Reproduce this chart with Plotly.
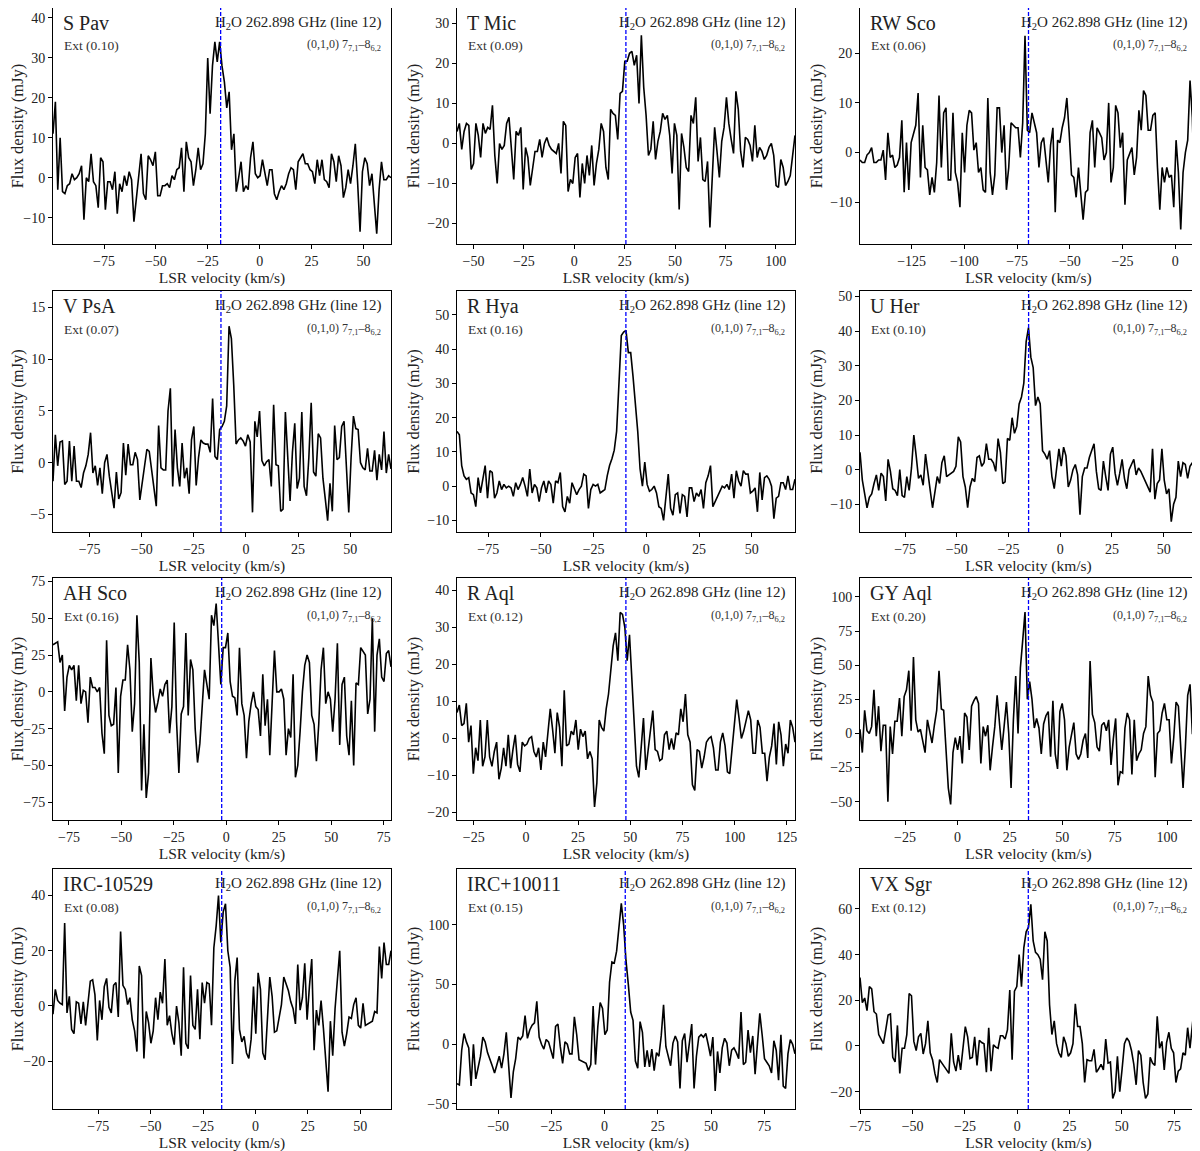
import numpy as np
import plotly.graph_objects as go

# ---------------- data ----------------
stars = ["S Pav", "T Mic", "RW Sco", "V PsA", "R Hya", "U Her",
         "AH Sco", "R Aql", "GY Aql", "IRC-10529", "IRC+10011", "VX Sgr"]
ext = ["0.10", "0.09", "0.06", "0.07", "0.16", "0.10",
       "0.16", "0.12", "0.20", "0.08", "0.15", "0.12"]
vsys = [-18.8, 25.6, -69.6, -12.0, -9.7, -15.3, -2.2, 47.9, 33.9, -16.1, 9.7, 5.3]
vel_lo = [-99.6, -58.2, -149.5, -92.6, -89.8, -96.8, -82.6, -33.0, -46.5, -96.6, -69.3, -75.2]
vel_hi = [63.3, 109.5, 10.3, 69.6, 70.5, 66.1, 78.5, 128.9, 114.3, 64.7, 89.4, 86.0]
y_lo = [-16.6, -25.1, -18.4, -6.7, -13.4, -18.0, -87.0, -22.0, -63.4, -37.3, -54.2, -27.6]
y_hi = [42.5, 33.8, 29.1, 16.6, 57.0, 51.6, 77.3, 43.3, 113.9, 49.6, 146.8, 77.5]
y_dtick = [10, 10, 10, 5, 10, 10, 25, 10, 25, 20, 50, 20]

flux_s_pav = [11, 19, -3, 10, -3.5, -4, -2, -1.5, 1, -0.5, 0, 1, 3, -10.5, 0, -1, 6, -1, -2, -7.5, 5, 4, -8, -1, -1,
              -3, 1.5, -9, -1.5, -3.5, 0.5, -2, 1.5, -0.5, -11, -5, 0, 6, -4, -5.5, 5.5, 4.5, 3, 6.5, -4.5, -4.5, -2,
              -2, -1.5, -2.5, 0.5, -0.5, 2, 2.5, 7.5, -3.5, 9, 5, 4, -2, 2, 7.5, 2, 3.5, 11, 30, 16, 28, 34, 29, 34,
              28, 24, 17.5, 21.5, 7, 11, -3.5, 0, 4, -3.5, -2, -3, 5, 9, 1, 0, 0.5, 4.5, 1, -2, 2, 2, -4, -5.5, -3.5,
              -2, -3, -1.5, 1, 2.5, 2, -3, 4, 5, 6, 3.5, 3.5, 2, 1.5, -1.5, 4.5, 0.5, 4.5, -0.5, -1, -2.5, 6, 4, -1,
              5.5, 3, -5, -2.5, 2, -1.5, 3, 8.5, -1.5, -13.5, 1.5, 5, 3.5, -2, 1, -6, -14, -3, 4, -0.5, -0.5, 0.5, 0]
flux_t_mic = [3, 5, -1.5, 3, 5, 4.5, -6.5, -5, 5, 2, -3.5, 5, 2.5, 4, 3.5, 9.5, -3, -10, 0, -1.5, -0.5, 5, 6.5, -1,
              -9, 3, 2, 4, -11.5, -1, -3.5, -10.5, -6, -2, -2, 1, -3.5, 0, 1.5, -0.5, -1.5, -2, -2.5, 0, -7.5, 5.5,
              4.5, -12, -9, -10, -3.5, -2.5, -13.5, -5, -10, -3, -8, -0.5, -10.5, -5, -1.5, 5, 3, -6, -9, 8.5, 7.5,
              7, 1, 12.5, 13, 20.5, 20.5, 22.5, 23, 19.5, 22, 10, 27, 14, 7, -3, -1.5, 5.5, -4, 0.5, 3, 7.5, 6, 7, 2,
              -7.5, 5, 2, -16.5, 2.5, -1, -6, -7, 7, 5, 11.5, -4.5, 1.5, -9, -9.5, -4.5, -21, -10, 4, -2, -8.5, 0.5,
              4, 11.5, 5, 1, -2.5, 13, 8.5, -2, -6, 1.5, 1, -0.5, -4.5, 4.5, -3.5, -1, -2, -4, -3, -1, 0, -3, -10.5,
              -11, -4, -6, -10.5, -9.5, -8, -3, 2]
flux_rw_sco = [-1.5, -2, -2, -0.5, 0, 1, -2, -2, -1.5, -1.5, 0.5, -5.5, 4, -1, -0.5, -3, -2.5, -1, 6.5, -8, 2, -7.5,
               2, 4, 5.5, 12, -5, 5.5, -3, -3.5, -8.5, -5, -8, -2, 11.5, -3, 8, 9, -5.5, -5.5, 8, -4, -6, -11, 4, -4,
               5.5, 8.5, 8, 0.5, 2, -4, -3, -7.5, -8, 11, -4, -8.5, -4.5, 9, 9, 0, 5.5, -7.5, -3, 6, 5.5, 5, 5, -1,
               6, 23.5, 4.5, 4, 8, 6, 4, -3, 2, 3, -1.5, -6, 1.5, 5, -12, 2.5, 2, 5, 7, 11, 4, -4.5, -5, -9, -3, -9,
               -13.5, -8, -7.5, 4, 6.5, -3, 5, 4, 3, -1.5, 0, 10, -6, -3, 9.5, 8, 1, 4, -10.5, -1.5, 0, 1, -4.5, -1,
               8.5, 4.5, 12.5, 11.5, 4.5, 4.5, 7.5, 8, -3, -11.5, -3, -6, -3, -5, -4.5, -11, 2.5, -4, -15.5, -4, 0,
               2.5, 14.5, 7, -10, 0]
flux_v_psa = [-1.8, 2.7, -0.3, 2, 2.1, -2.1, -1.8, 2.1, -1.8, 1.6, -1.8, -1.8, -2.4, -1, -0.3, 0.8, 2.9, -1, -0.3,
              -2.2, -0.5, -3, 0, 0.8, -1.3, -2.8, -4.4, -0.9, -3.5, -2.9, 1.9, -1.2, 1.8, -0.2, -0.2, 1, 0.3, -3.6,
              -2, -0.3, 1.3, 1.1, -0.5, -2.5, -4.2, 3.6, -0.5, -0.7, -0.7, 5, 7.2, -2.3, 3.2, -0.5, -2.3, 1.9, -1.5,
              -0.5, -3, 2.2, 3.5, -2.2, 0.5, 2.2, 1.9, 1.8, 1.8, 1, 6.2, 0.6, 0.3, 3.2, 3.5, 4, 5.5, 13.2, 12, 7.5,
              1.8, 2.2, 2.4, 2.1, 1.6, 2.7, 2, -4.8, 4, 2.5, 5, 0.2, -0.3, 0.1, 0.3, -2.3, 5.6, -0.2, -0.3, -4.7,
              -4.5, 4.9, 0.8, -3.7, 1, 3.8, -2.5, -1.5, 4.9, -2.3, -3.2, 0.5, 5.8, -0.9, -1.3, 2.8, 2.4, -1.5, -3.5,
              -5.6, -2, -4.7, 3.6, 0.3, 0.5, 3.5, 4, -0.5, -4.8, 0.5, 4.5, 3.3, 3.2, 0, -0.5, -0.7, 1.4, -0.8, -0.8,
              1.2, -1.7, 0.8, -0.7, 3, -1, 0.8, -0.6]
flux_r_hya = [16, 15, 6, 3, 2, 2.5, -2, -2.5, -6, 2.5, -2, 2.5, 6, -3.5, 4.5, 4, -3.5, -2, 1.5, -1, 0.5, -0.5, 0,
              -0.5, -3, 1, -1, 0.5, 2.5, 0, -3, 5, -2, 0.5, -0.5, -4.5, -0.5, 1.5, -2, 1.5, 0.5, -5, 1.5, 1, 4, -6,
              -7.5, -3, -5, 1, -0.5, -2.5, -1, 0, 3.5, 3, -6.5, -1, 0.5, 0, 0.5, -2, -1.5, -1, 3, 6, 8, 10.5, 16, 30,
              44, 45, 45.5, 39, 39, 32, 25, 16, 5, 0, 7, 0.5, -1.5, -1, 0, -2, -6, -6.5, -10, -3.5, 3.5, -6.5, -8.5,
              -2.5, -2, -8, -2.5, -3, -9, -0.5, -0.5, -4.5, -2, -3, -1, -6.5, 1, 3, 6, -6, -4.5, -3, -1.5, 0, -0.5,
              0.5, -1, 3.5, -3.5, 4.5, 1.5, 0, 4.5, 3.5, 3.5, -2, -1.5, -0.5, -7.5, 4, -4, 2.5, 3, 2, 0, -9.5, -3.5,
              -3, 1, 1, -1, 3, -1, -1, 2]
flux_u_her = [5, -3, -7, -11, -8, -7, -4, -1.5, -6, -1, -2, -9, 3, -0.5, -5.5, -6, -7.5, 0, -7.5, -8, -2, -6, 0.5,
              10, 4, -2.5, -1.5, -4.5, 4.5, -1.5, -6, -11, -7, -2, -4, 2, 4, -2, -1.5, -1, -0.5, 1, 9.5, 8, -2, -5,
              -11, -5, -2.5, -3.5, 3.5, 4, 1, 2, 7.5, 3, 3, 2, -0.5, 9, 5, -4, -3.5, 9, 8.5, 15, 10.5, 12.5, 19, 21,
              25, 37, 41, 32.5, 29.5, 18.5, 21, 19, 5.5, 4.5, 3, 5.5, -2, -5.5, 0.5, 6, 1, 6.5, 4, -5, -3, 0, 1.5,
              -1.5, -13, -2, 0.5, 0.5, 3.5, 5.5, 7.5, -0.5, -5.5, -6, 2.5, -2, -6, 4.5, 6.5, -1, -4.5, -1, 3, -2.5,
              -5.5, 0, 1.5, 3, -1.5, 0.5, -0.5, -2, -3.5, -5.5, -6.5, 6, -8.5, -4, -3, 6, -3, -7, -5.5, -15, -10, -8,
              2.5, -2, 2, 1.5, -2.5, 1, 2, -1, -1]
flux_ah_sco = [32, 33, 34, 20, 25, -13, 10, 18, 15, 18, -6, 18, -8, 1, 0, -21, 10, 3, 3, 0, 3, -28, -42, 35, -16, -23,
               -22, 3, -55, -3, 8, 8, 32, 15, -27, -8, 52, 20, -67, -22, -72, -55, 23, -2, -14, -7, 2, -3, 5, 8, -28,
               -10, 47, -20, -55, -15, -10, 40, -16, 22, 15, -25, -48, -35, -7, 15, 5, -5, 52, 45, 60, 30, 5, 30, 30,
               40, 7, -3, -4, -16, 30, -8, -16, -45, -20, -8, 0, -10, -12, -30, 12, -23, -5, -43, -3, 28, 0, 0, 2, -5,
               -43, -25, -31, 12, -58, -50, -27, 0, 18, 25, 20, -16, -22, -47, -22, 15, 30, -8, 0, -5, -27, -5, 33,
               -36, 5, 10, -30, -43, -6, -50, 6, 5, 30, 27, 25, -15, -5, 50, -27, 25, 36, 10, 7, 26, 28, 17]
flux_r_aql = [7, 9, 3.5, 4, 9.5, -1, 3.5, -9.5, -2.5, -6, 5, -7.5, -5, 5, -5, -7.5, -3.5, -1, -11, -8, -2.5, -7.5, 1,
              -8, -3, 1, -7, -9, -1, -2, -1.5, 0, 0.5, -3.5, -5, -2.5, -8.5, -1, -5, 2, 8, 2.5, -4, 7, 3, -7.5, 13, -2,
              -1.5, 2, 1, 5, -3, 2.5, 0.5, 2, -5.5, -3.5, -5.5, -18.5, -12, 5, 3, 2, 8, 12, 18, 25, 28.5, 21, 34, 33.5,
              30, 21, 28, 16, 2, -7.5, -10.5, -3, 5.5, -8.5, -3, 1, 7.5, -3, -3.5, -6, -5.5, 1, 2, -3, 0, -3, 1.5, 1,
              8, 4.5, 12, 1, -1, -12.5, -14, -3, -3.5, -8, -5, -1, 0, 0.5, -2.5, -8.5, -8.5, -1, 1.5, -2, -9, -9.5,
              -3, 2, 10.5, 5.5, 0, 2, 5, 7.5, 5, -4, -4, 5, 3, -4, -4, -11.5, -5, -2, 4, -7, 4.5, 1, -7.5, -1.5, -4,
              5, 3, -1]
flux_gy_aql = [3, -14, 17, 2, 0, 5, 32, -2, 20, -13, 6, 6, -50, 5, -15, 9, 9, 26, -2, 27, 32, 46, 2, 56, 10, 1, 3,
               -5, -14, 10, 1, -7, 6, 17, 46, 18, 17, -12, -40, -52, -14, -3, -12, -2, -22, 15, 12, -12, 20, 24, 27,
               22, -22, 5, -2, 6, -27, -10, 5, 28, 5, -12, 5, 23, 0, -40, 10, 42, 0, 48, 68, 89, 25, 38, 25, 4, 11, 4,
               -15, 7, 13, 16, -17, 24, -15, -26, 16, 22, 10, -27, -10, 0, 8, -15, -19, -15, -5, 0, -18, 53, 14, 8,
               -10, -13, 6, 8, 2, 10, -23, -4, 11, -38, -28, -29, 4, 15, 10, -30, 10, -20, -15, -12, 0, 5, 42, 28, 23,
               -32, 0, 2, 15, 22, 10, 10, -22, -3, 23, 20, -15, -40, -10, 28, 36, 0, 0, -15]
flux_irc_10529 = [-3, 6, 2, 1, 0.5, 30, -2.5, 3.5, -8.5, -10, 1.5, 1, -6.5, 1.5, -7, 0, 9, 9.5, 4, -12.5, 2, -5, 7,
                  10, -0.5, -2.5, 7.5, 8.5, -4, 27, 7.5, 6, 0.5, 3, -5, -9, -16.5, 14.5, 11, -19, -2, -6, -13.5, -9,
                  3, -5, 5, 1, 17, -7, -3.5, -10, -14, 0, -6, -18, 14, -13.5, -15.5, 11, -7, -8.5, 6, -12, 8.5, 1,
                  8.5, 8, -7, 21, 29, 40, 23, 34, 37, 20, 14, -21, 9, 17.5, -8.5, -13, -11, -17, -19, -12, 7, -10,
                  12, 6, -17, -19.5, -6.5, 10.5, 3.5, -9.5, -9, -3.5, 0.5, 10.5, 8, 5.5, 1.5, -1, -6.5, 15, -1.5, 3,
                  15.5, -5, 7, 17, -16, -1.5, -7, 2, -8, -20, -31, -5.5, -18, -1, 9.5, 20, -9.5, -14.5, -10, -4,
                  -4.5, 0.5, 3, -7, -8, 1, -7, -6.5, -6, -5.5, -2, -2.5, 21.5, 10, 23, 15, 15, 20]
flux_irc_10011 = [-33, -34, -5, 9, 2, -3, -35, 0, -29, -20, -10, 6, 2, -7, -12, -18, -24, -16, -10, -20, -8, 10, -15,
                  -45, -23, -12, 6, 4, 7, 24, 5, 12, 16, 18, 36, 6, 0, -4, 4, 2, -5, -12, 15, 17, -2, -16, 2, 0, -8,
                  -8, 23, 8, -13, -14, -15, -16, -22, -17, 32, -17, 15, 35, 30, 8, 12, 52, 69, 68, 78, 100, 118, 100,
                  70, 50, 27, 20, -14, -20, 19, 10, -19, -5, -19, -4, -22, -7, -10, 7, 33, -2, -10, -18, 1, 7, 2, -37,
                  3, 9, -15, 2, 17, -37, -10, 6, 8, 6, 9, 0, -10, 6, -39, -6, -24, -3, 5, 1, -18, -5, -3, -7, -12, 27,
                  -17, -15, 12, -7, 7, -25, 5, 26, 8, -12, -15, -18, -24, 3, -5, -30, 8, -35, -37, -8, 4, 0, -8]
flux_vx_sgr = [30, 19, 21, 15.5, 26, 25, 15, 14, 5, 3, 1, 7, 13.5, 14, -5, -7, 9, -12, -1, -1, 5, 23, 22, 2, -2, 4,
               5.5, -3.5, 1, 11, -3, -6, -12, -16, -6, -7.5, -9, -11, -12, 5.5, -7, -11, -4, -10.5, 0, 8.5, 4, -5.5,
               -5, 4, -8.5, 2.5, 1.5, 1, -11.5, 8, -11, 0.5, -0.5, -1, 4.5, 4.5, 3, 7, 24.5, -6, 24, 26, 40, 26, 43,
               50, 52, 62, 46, 41, 40, 38, 29, 50, 46, 18, 5, 11, 1, -3, -5, 4, 1, -4.5, -3, 1, 18.5, 8.5, 8.5, 1,
               -16, -6, -6.5, -6.5, -1.5, -11.5, -10, -8, -10.5, 3, -7.5, -7, -23, -20, -4.5, -20, -10, 1, 3.5, 2, -2,
               -8, -17, -2, -4, -16, -23, -21, -5, -7.5, -8.5, 13, -1, 2, -10.5, 1.5, 6, -1, -3, -16, -11, -10, -3,
               -4, 8, -1, 9, 19, 16]

fluxes = [flux_s_pav, flux_t_mic, flux_rw_sco, flux_v_psa, flux_r_hya, flux_u_her,
          flux_ah_sco, flux_r_aql, flux_gy_aql, flux_irc_10529, flux_irc_10011, flux_vx_sgr]

# ---------------- layout geometry ----------------
W, H = 1200, 1151
OFF = 8  # page body margin offset
col_px = [(53, 391), (457, 795), (860, 1197)]
row_px = [(8, 244), (291, 532), (578, 820), (869, 1109)]

FONT = "Liberation Serif"
fig = go.Figure()
annotations = []
shapes = []

for i in range(12):
    r, c = divmod(i, 3)
    n = i + 1
    xa = "x" if n == 1 else f"x{n}"
    ya = "y" if n == 1 else f"y{n}"
    xkey = "xaxis" if n == 1 else f"xaxis{n}"
    ykey = "yaxis" if n == 1 else f"yaxis{n}"

    flux = fluxes[i]
    vel = np.linspace(vel_lo[i], vel_hi[i], len(flux))
    fig.add_trace(go.Scatter(x=vel, y=flux, mode="lines", xaxis=xa, yaxis=ya,
                             line=dict(color="black", width=1.6), showlegend=False,
                             hoverinfo="skip"))

    x0, x1 = col_px[c][0] - OFF, col_px[c][1] - OFF
    y0, y1 = row_px[r][0] - OFF, row_px[r][1] - OFF
    fig.layout[xkey] = dict(
        domain=[max(x0, 0) / W, x1 / W], anchor=ya, range=[vel_lo[i], vel_hi[i]],
        dtick=25, tick0=0, showline=True, linecolor="black", linewidth=1, mirror=True,
        ticks="outside", ticklen=4, tickcolor="black", showgrid=False, zeroline=False,
        automargin=False,
        tickfont=dict(family=FONT, size=14, color="#222"),
        title=dict(text="LSR velocity (km/s)", font=dict(family=FONT, size=15.5, color="#222"), standoff=2),
    )
    fig.layout[ykey] = dict(
        domain=[1 - y1 / H, min(1 - y0 / H, 1)], anchor=xa, range=[y_lo[i], y_hi[i]],
        dtick=y_dtick[i], tick0=0, showline=True, linecolor="black", linewidth=1, mirror=True,
        ticks="outside", ticklen=4, tickcolor="black", showgrid=False, zeroline=False,
        automargin=False,
        tickfont=dict(family=FONT, size=14, color="#222"),
        title=dict(text="Flux density (mJy)", font=dict(family=FONT, size=16.5, color="#222"), standoff=3),
    )

    xd = f"{xa} domain"
    yd = f"{ya} domain"
    annotations += [
        dict(text=stars[i], xref=xd, yref=yd, x=0.025, y=0.99, xanchor="left", yanchor="top",
             showarrow=False, font=dict(family=FONT, size=20, color="#222")),
        dict(text=f"Ext ({ext[i]})", xref=xd, yref=yd, x=0.027, y=0.88, xanchor="left", yanchor="top",
             showarrow=False, font=dict(family=FONT, size=13.5, color="#333")),
        dict(text="H<sub>2</sub>O 262.898 GHz (line 12)", xref=xd, yref=yd, x=0.975, y=0.985,
             xanchor="right", yanchor="top", showarrow=False,
             font=dict(family=FONT, size=15, color="#222")),
        dict(text="(0,1,0) 7<sub>7,1</sub>–8<sub>6,2</sub>", xref=xd, yref=yd, x=0.975, y=0.885,
             xanchor="right", yanchor="top", showarrow=False,
             font=dict(family=FONT, size=12, color="#333")),
    ]
    shapes.append(dict(type="line", xref=xa, yref=yd, x0=vsys[i], x1=vsys[i], y0=0, y1=1,
                       line=dict(color="blue", width=1.3, dash="4px,2px")))

fig.update_layout(width=W, height=H, margin=dict(l=0, r=0, t=0, b=0, autoexpand=False),
                  paper_bgcolor="white", plot_bgcolor="white",
                  annotations=annotations, shapes=shapes)
fig.write_html("out.html")
